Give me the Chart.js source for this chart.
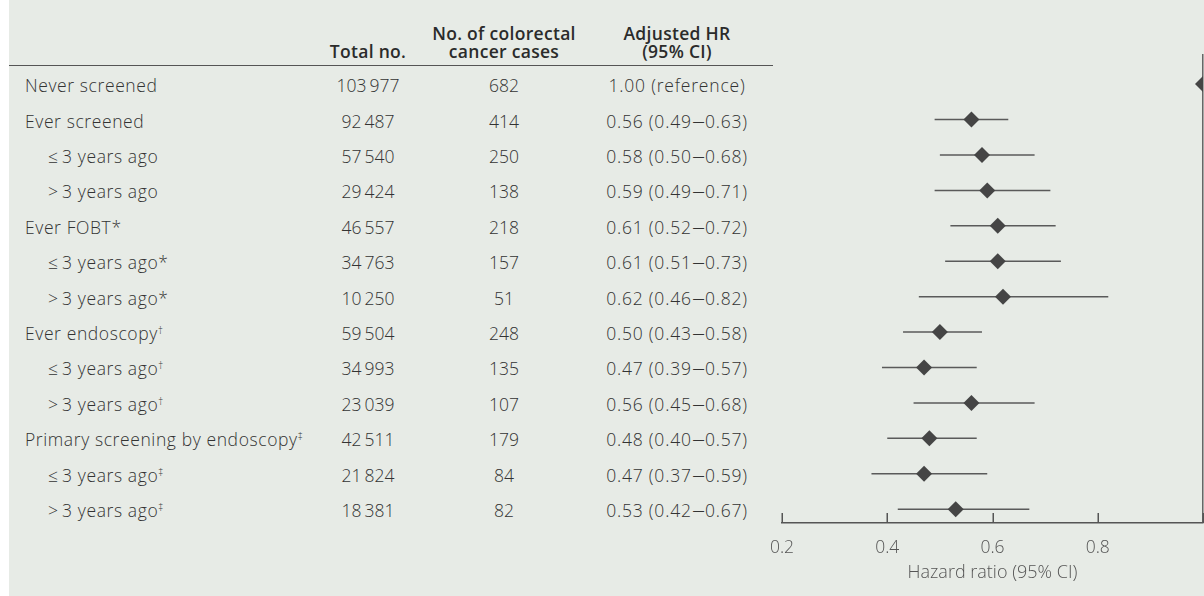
<!DOCTYPE html>
<html><head><meta charset="utf-8">
<script src="https://cdn.jsdelivr.net/npm/chart.js@4.4.1/dist/chart.umd.min.js"></script>
<style>
html,body{margin:0;padding:0;background:#fff;width:1204px;height:596px;overflow:hidden;}
#panel{position:absolute;left:9px;top:0;width:1195px;height:596px;background:#e7ebe6;}
#wrap{position:absolute;left:0;top:0;width:1204px;height:596px;}
#txt{position:absolute;left:0;top:0;width:1204px;height:596px;}
.t{position:absolute;font-family:"Open Sans","Noto Sans",sans-serif;font-weight:300;font-size:17.5px;color:#333;white-space:nowrap;line-height:20px;}
.lab{letter-spacing:0.6px;}
.hr{letter-spacing:0.8px;}
.hr .d{display:inline-block;transform:scaleX(1.5);margin:0 2px 0 2.5px;letter-spacing:0;}
.h{font-weight:600;color:#2b2b2b;text-align:center;line-height:18px;letter-spacing:0.3px;transform:translate(-50%,-100%);}
.c{transform:translate(-50%,-50%);}
.l{transform:translate(0,-50%);}
sup{font-size:10px;vertical-align:6px;line-height:0;letter-spacing:0;}
#rule{position:absolute;left:9px;top:65px;width:764px;height:0;border-top:1.5px solid #555;}
</style></head>
<body>
<div id="panel"></div>
<div id="rule"></div>
<div id="txt"></div>
<div id="wrap"><canvas id="c" width="1204" height="596"></canvas></div>
<script>
const rowLabels = ['Never screened','Ever screened','\u2264\u20093 years ago','>\u20093 years ago','Ever FOBT','\u2264\u20093 years ago','>\u20093 years ago','Ever endoscopy','\u2264\u20093 years ago','>\u20093 years ago','Primary screening by endoscopy','\u2264\u20093 years ago','>\u20093 years ago'];
const rowNotes = ['','','','','*','*','*','\u2020','\u2020','\u2020','\u2021','\u2021','\u2021'];
const rowIndent = [0,0,1,1,0,1,1,0,1,1,0,1,1];
const totalNo = [103977,92487,57540,29424,46557,34763,10250,59504,34993,23039,42511,21824,18381];
const caseCounts = [682,414,250,138,218,157,51,248,135,107,179,84,82];
const hazardRatio = [1.00,0.56,0.58,0.59,0.61,0.61,0.62,0.50,0.47,0.56,0.48,0.47,0.53];
const ciLower = [null,0.49,0.50,0.49,0.52,0.51,0.46,0.43,0.39,0.45,0.40,0.37,0.42];
const ciUpper = [null,0.63,0.68,0.71,0.72,0.73,0.82,0.58,0.57,0.68,0.57,0.59,0.67];
const xTicks = [0.2,0.4,0.6,0.8,1.0];
const colHeaders = ['Total no.','No. of colorectal<br>cancer cases','Adjusted HR<br>(95% CI)'];
const axisTitle = 'Hazard ratio (95% CI)';

function fmtNum(n){ return n >= 10000 ? String(n).replace(/\B(?=(\d{3})+(?!\d))/g,'\u2009') : String(n); }
function fmtHR(i){ return ciLower[i]==null ? hazardRatio[i].toFixed(2)+' (reference)' : hazardRatio[i].toFixed(2)+' ('+ciLower[i].toFixed(2)+'<span class="d">\u2013</span>'+ciUpper[i].toFixed(2)+')'; }

const innerTicks = {id:'innerTicks', afterDraw(chart){
  const s = chart.scales.x, y0 = chart.chartArea.bottom, c = chart.ctx;
  c.save(); c.strokeStyle = '#555'; c.lineWidth = 1.5;
  s.ticks.forEach(t => { const px = Math.round(s.getPixelForValue(t.value)) + 0.25; c.beginPath(); c.moveTo(px, y0); c.lineTo(px, y0 - 10); c.stroke(); });
  c.restore();
}};

const datasets = [{
  data: hazardRatio.map((v,i)=>({x:v,y:i})),
  pointStyle:'rectRot', pointRadius:8, pointHoverRadius:8, backgroundColor:'#454545', borderWidth:0, showLine:false
}];
hazardRatio.forEach((v,i)=>{
  if (ciLower[i]==null) return;
  datasets.push({data:[{x:ciLower[i],y:i},{x:ciUpper[i],y:i}], showLine:true, borderColor:'#5a5a5a', borderWidth:1.5, pointRadius:0, pointHoverRadius:0});
});

const tickFont = {family:'"Open Sans"', size:17.5, weight:'300'};
const titleFont = {family:'"Open Sans"', size:18, weight:'300'};
const chart = new Chart(document.getElementById('c'), {
  type:'scatter',
  data:{datasets},
  plugins:[innerTicks],
  options:{
    responsive:false, animation:false, devicePixelRatio:1,
    layout:{autoPadding:false, padding:{left:782,top:54,right:1,bottom:0}},
    plugins:{legend:{display:false},tooltip:{enabled:false}},
    scales:{
      x:{type:'linear',min:0.2,max:1.0,
        afterBuildTicks: s => { s.ticks = xTicks.map(v=>({value:v})); },
        afterFit: s => { s.height = 73; s.paddingRight = 0; s.paddingLeft = 0; },
        ticks:{autoSkip:false,padding:15,color:'#555',font:tickFont,callback:v => v>=0.999 ? '' : Number(v).toFixed(1)},
        grid:{drawTicks:false,drawOnChartArea:true,lineWidth:1.5,color:c => (c.tick && c.tick.value>=0.999) ? '#666' : 'rgba(0,0,0,0)'},
        border:{display:true,color:'#555',width:1.5},
        title:{display:true,text:axisTitle,color:'#555',font:titleFont,padding:{top:0,bottom:12}}
      },
      y:{type:'linear',display:false,reverse:true,min:-0.85,max:12.39}
    }
  }
});

// table text placed on the chart's row scale
const txt = document.getElementById('txt');
const colX = [368,504,677];
colHeaders.forEach((h,k)=>{ const d=document.createElement('div'); d.className='t h'; d.style.left=colX[k]+'px'; d.style.top='60px'; d.innerHTML=h; txt.appendChild(d); });
const ys = chart.scales.y;
rowLabels.forEach((lab,i)=>{
  const y = ys.getPixelForValue(i) + 1;
  const a=document.createElement('div'); a.className='t l lab'; a.style.left=(rowIndent[i]?48:25)+'px'; a.style.top=y+'px';
  const note = rowNotes[i]; a.innerHTML = lab + (note==='*' ? '*' : (note ? '<sup>'+note+'</sup>' : ''));
  txt.appendChild(a);
  [fmtNum(totalNo[i]), String(caseCounts[i]), fmtHR(i)].forEach((s,k)=>{
    const d=document.createElement('div'); d.className='t c' + (k===2?' hr':''); d.style.left=colX[k]+'px'; d.style.top=y+'px'; d.innerHTML=s; txt.appendChild(d);
  });
});
</script>
</body></html>
